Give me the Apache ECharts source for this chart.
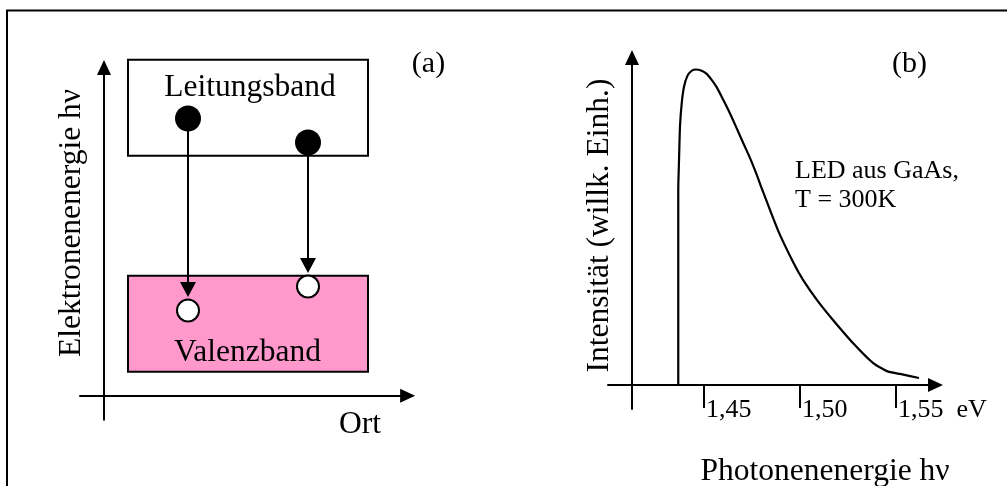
<!DOCTYPE html>
<html>
<head>
<meta charset="utf-8">
<script src="https://cdn.jsdelivr.net/npm/echarts@6/dist/echarts.min.js"></script>
<style>
  html, body { margin: 0; padding: 0; background: #ffffff; }
  #chart { width: 1007px; height: 486px; }
</style>
</head>
<body>
<div id="chart"></div>
<script>
// (a) Bändermodell – Ort und Elektronenenergie in willkürlichen Einheiten
const bandNames = ['Leitungsband', 'Valenzband'];
const bandOrt = [[1, 11], [1, 11]];
const bandEnergy = [[10, 14], [1, 5]];
const carrierOrt = [3.5, 8.5];
const electronEnergy = [11.55, 10.55];
const holeEnergy = [3.55, 4.55];

// (b) Emissionsspektrum einer GaAs-LED bei T = 300 K
const photonEnergy = [1.4366, 1.4366, 1.4366, 1.4370, 1.4375, 1.4384, 1.4396, 1.4413, 1.4436, 1.4458,
                      1.4488, 1.4514, 1.4540, 1.4566, 1.4601, 1.4635, 1.4670, 1.4705, 1.4740, 1.4775,
                      1.4801, 1.4885, 1.4964, 1.5016, 1.5089, 1.5172, 1.5276, 1.5380, 1.5453, 1.5521,
                      1.5620];
const intensity = [0, 0.269, 0.618, 0.713, 0.819, 0.893, 0.945, 0.979, 0.996, 1.0,
                   0.996, 0.986, 0.967, 0.944, 0.903, 0.861, 0.814, 0.766, 0.719, 0.666,
                   0.623, 0.491, 0.390, 0.333, 0.269, 0.206, 0.133, 0.070, 0.044, 0.035,
                   0.022];
const energyTicks = [1.45, 1.50, 1.55];

const SERIF = '"Liberation Serif", "Times New Roman", Times, serif';
const BLACK = '#000000';
const PINK = '#ff99cc';
const HOLE_SIZE = 22;       // Symbolgröße der Löcher (ohne Rand)
const HEAD_LEN = 15;
const HEAD_W = 16;

function text(str, x, y, size, extra) {
  return Object.assign({
    type: 'text', x: x, y: y, silent: true, z: 20,
    style: {
      text: str, font: size + 'px ' + SERIF, fill: BLACK,
      align: 'center', verticalAlign: 'middle',
      textAlign: 'center', textVerticalAlign: 'middle'
    }
  }, extra || {});
}

const axisArrow = { symbol: ['none', 'triangle'], symbolSize: [14, 15] };
const axisLineStyle = { color: BLACK, width: 2 };

const chart = echarts.init(document.getElementById('chart'), null, { renderer: 'canvas' });

chart.setOption({
  animation: false,
  backgroundColor: '#ffffff',
  grid: [
    { left: 80, top: 67.5, width: 327.6, height: 352.2, outerBoundsMode: 'none', containLabel: false },
    { left: 608, top: 57.5, width: 327.5, height: 351.5, outerBoundsMode: 'none', containLabel: false }
  ],
  xAxis: [
    {
      gridIndex: 0, type: 'value', min: -1, max: 12.65,
      axisLine: Object.assign({ show: true, onZero: true, lineStyle: axisLineStyle }, axisArrow),
      axisTick: { show: false }, axisLabel: { show: false }, splitLine: { show: false }
    },
    {
      gridIndex: 1, type: 'value', min: 1.40, max: 1.5706,
      axisLine: Object.assign({ show: true, onZero: true, lineStyle: axisLineStyle }, axisArrow),
      axisTick: {
        show: true, customValues: energyTicks, inside: false, length: 23,
        lineStyle: { color: BLACK, width: 2 }
      },
      axisLabel: {
        show: true, customValues: energyTicks,
        formatter: function (v) {
          const s = v.toFixed(2).replace('.', ',');
          return Math.abs(v - 1.55) < 1e-6 ? s + '  eV' : s;
        },
        align: 'left', verticalAlign: 'top', margin: -12, padding: [0, 0, 0, 2],
        color: BLACK, fontFamily: SERIF, fontSize: 26, lineHeight: 26
      },
      splitLine: { show: false }
    }
  ],
  yAxis: [
    {
      gridIndex: 0, type: 'value', min: -1, max: 13.675,
      axisLine: Object.assign({ show: true, onZero: true, lineStyle: axisLineStyle }, axisArrow),
      axisTick: { show: false }, axisLabel: { show: false }, splitLine: { show: false }
    },
    {
      gridIndex: 1, type: 'value', min: -0.0761, max: 1.038, offset: -24,
      axisLine: Object.assign({ show: true, onZero: false, lineStyle: axisLineStyle }, axisArrow),
      axisTick: { show: false }, axisLabel: { show: false }, splitLine: { show: false }
    }
  ],
  series: [
    {
      // Leitungs- und Valenzband
      type: 'custom', xAxisIndex: 0, yAxisIndex: 0, clip: false, z: 1, silent: true,
      data: bandOrt.map(function (o, i) { return [o[0], o[1], bandEnergy[i][0], bandEnergy[i][1]]; }),
      renderItem: function (params, api) {
        const p0 = api.coord([api.value(0), api.value(3)]);
        const p1 = api.coord([api.value(1), api.value(2)]);
        return {
          type: 'rect',
          shape: { x: p0[0], y: p0[1], width: p1[0] - p0[0], height: p1[1] - p0[1] },
          style: { fill: params.dataIndex === 1 ? PINK : '#ffffff', stroke: BLACK, lineWidth: 2 }
        };
      }
    },
    {
      // Rekombination: Pfeil vom Elektron zum Loch
      type: 'custom', xAxisIndex: 0, yAxisIndex: 0, clip: false, z: 2, silent: true,
      data: carrierOrt.map(function (x, i) { return [x, electronEnergy[i], holeEnergy[i]]; }),
      renderItem: function (params, api) {
        const s = api.coord([api.value(0), api.value(1)]);
        const e = api.coord([api.value(0), api.value(2)]);
        const tipY = e[1] - (HOLE_SIZE + 2) / 2 - 1.5;
        return {
          type: 'group',
          children: [
            {
              type: 'line',
              shape: { x1: s[0], y1: s[1], x2: s[0], y2: tipY - HEAD_LEN + 1 },
              style: { stroke: BLACK, lineWidth: 2 }
            },
            {
              type: 'polygon',
              shape: { points: [[s[0] - HEAD_W / 2, tipY - HEAD_LEN], [s[0] + HEAD_W / 2, tipY - HEAD_LEN], [s[0], tipY]] },
              style: { fill: BLACK }
            }
          ]
        };
      }
    },
    {
      // Löcher im Valenzband
      type: 'scatter', xAxisIndex: 0, yAxisIndex: 0, clip: false, z: 3, silent: true,
      symbol: 'circle', symbolSize: HOLE_SIZE,
      itemStyle: { color: '#ffffff', borderColor: BLACK, borderWidth: 2, opacity: 1 },
      data: carrierOrt.map(function (x, i) { return [x, holeEnergy[i]]; })
    },
    {
      // Elektronen im Leitungsband
      type: 'scatter', xAxisIndex: 0, yAxisIndex: 0, clip: false, z: 4, silent: true,
      symbol: 'circle', symbolSize: 26,
      itemStyle: { color: BLACK, opacity: 1 },
      data: carrierOrt.map(function (x, i) { return [x, electronEnergy[i]]; })
    },
    {
      // Spektrum
      type: 'line', xAxisIndex: 1, yAxisIndex: 1, clip: false, z: 3, silent: true,
      showSymbol: false, symbol: 'none', smooth: 0.2,
      lineStyle: { color: BLACK, width: 2.2 },
      data: photonEnergy.map(function (x, i) { return [x, intensity[i]]; })
    }
  ],
  graphic: [
    {
      type: 'rect', silent: true, z: 0,
      shape: { x: 7, y: 10.5, width: 1100, height: 600 },
      style: { fill: 'none', stroke: BLACK, lineWidth: 2 }
    },
    text('(a)', 428.5, 64.6, 30),
    text('(b)', 909.5, 64.6, 30),
    text(bandNames[0], 250, 87.9, 31.5),
    text(bandNames[1], 247.5, 352.3, 31.5),
    text('Ort', 360, 424.6, 31.5),
    text('Elektronenenergie h\u03bd', 71.3, 223, 31.5, { rotation: Math.PI / 2 }),
    text('Intensität (willk. Einh.)', 599.6, 225.5, 31.5, { rotation: Math.PI / 2 }),
    text('Photonenenergie h\u03bd', 825, 471.3, 31.5),
    {
      type: 'text', x: 795, y: 157.2, silent: true, z: 20,
      style: {
        text: 'LED aus GaAs,\nT = 300K', font: '26px ' + SERIF, fill: BLACK,
        lineHeight: 28.5, align: 'left', verticalAlign: 'top',
        textAlign: 'left', textVerticalAlign: 'top'
      }
    }
  ]
});
</script>
</body>
</html>
